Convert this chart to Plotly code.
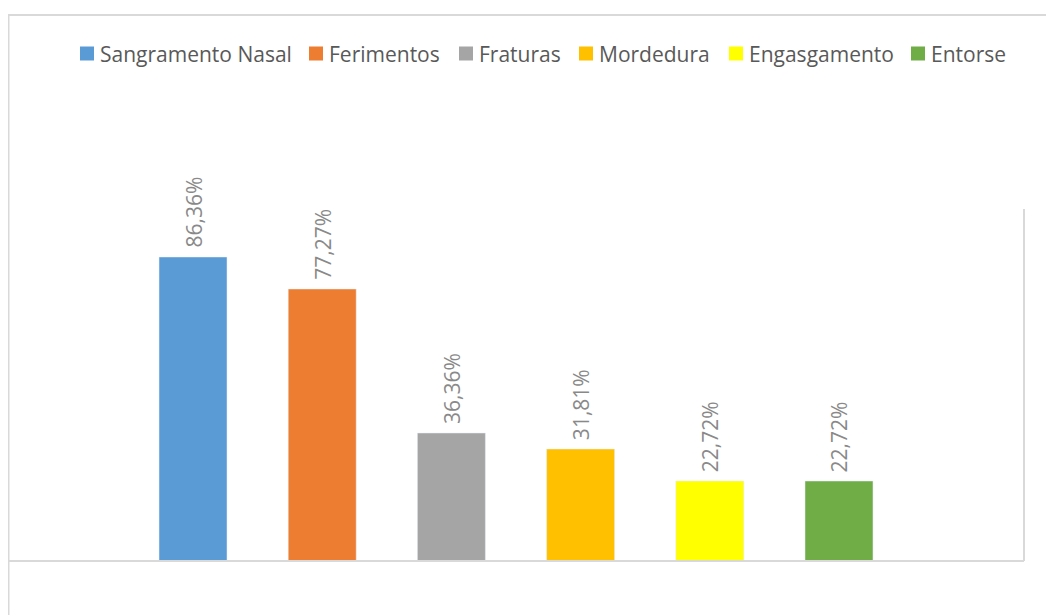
import plotly.graph_objects as go

categories = ["Sangramento Nasal", "Ferimentos", "Fraturas", "Mordedura", "Engasgamento", "Entorse"]
values = [86.36, 77.27, 36.36, 31.81, 22.72, 22.72]
labels = ["86,36%", "77,27%", "36,36%", "31,81%", "22,72%", "22,72%"]
colors = ["#5B9BD5", "#ED7D31", "#A5A5A5", "#FFC000", "#FFFF00", "#70AD47"]

# figure geometry (pixels)
W, H = 1046, 607
L, R, T, B = 0, 30, 201, 54
PW, PH = W - L - R, H - T - B

def px(x):
    return (x - L) / PW

def py(y):
    return (H - B - y) / PH

fig = go.Figure()
for c, v, col in zip(categories, values, colors):
    fig.add_trace(go.Bar(x=[c], y=[v], name=c, marker_color=col, width=0.526,
                         showlegend=False))

# value labels above bars
for c, v, t in zip(categories, values, labels):
    fig.add_annotation(x=c, y=v, xref="x", yref="y", text=t, showarrow=False,
                       textangle=-90, yanchor="bottom", xanchor="center", yshift=7,
                       font=dict(family="Open Sans", size=21, color="#898989"))

# legend drawn at the top (squares + labels)
legend_sq_x = [72, 301, 451, 571, 721, 903]
legend_y = 45.5
for c, col, sx in zip(categories, colors, legend_sq_x):
    fig.add_shape(type="rect", xref="paper", yref="paper",
                  x0=px(sx), x1=px(sx + 14), y0=py(legend_y - 7), y1=py(legend_y + 7),
                  fillcolor=col, line=dict(width=0))
    fig.add_annotation(x=px(sx + 18), y=py(legend_y), xref="paper", yref="paper",
                       text=c, showarrow=False, xanchor="left", yanchor="middle",
                       font=dict(family="Open Sans", size=21, color="#595959"))

fig.update_layout(
    width=W, height=H, barmode="overlay",
    plot_bgcolor="white", paper_bgcolor="white",
    margin=dict(l=L, r=R, t=T, b=B),
    showlegend=False,
    xaxis=dict(type="category", categoryorder="array", categoryarray=categories,
               range=[-1.432, 6.432], showticklabels=False, showgrid=False,
               zeroline=False, showline=False, ticks=""),
    yaxis=dict(range=[0, 100], showticklabels=False, showgrid=False,
               zeroline=False, showline=False, ticks=""),
)

line_col = "#d9d9d9"
# outer border (top and left)
fig.add_shape(type="line", xref="paper", yref="paper", x0=px(0), x1=px(W),
              y0=py(7), y1=py(7), line=dict(color=line_col, width=2))
fig.add_shape(type="line", xref="paper", yref="paper", x0=px(0.5), x1=px(0.5),
              y0=py(7), y1=py(H), line=dict(color=line_col, width=2))
# baseline
fig.add_shape(type="line", xref="paper", yref="paper", x0=0, x1=1,
              y0=0, y1=0, line=dict(color=line_col, width=2))
# right plot edge
fig.add_shape(type="line", xref="paper", yref="paper", x0=1, x1=1,
              y0=0, y1=1, line=dict(color=line_col, width=2))

fig.write_html("out.html")
